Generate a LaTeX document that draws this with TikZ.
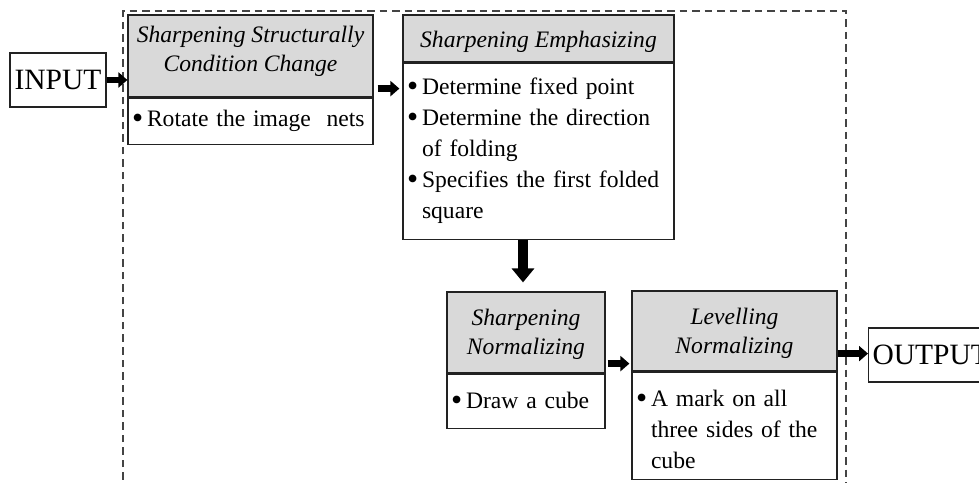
\documentclass[tikz,border=0pt]{standalone}
\usepackage{fontspec}
\setmainfont{Liberation Serif}
\usetikzlibrary{arrows.meta,calc}
\definecolor{hdr}{HTML}{D9D9D9}
\definecolor{edge}{HTML}{222222}
\definecolor{dash}{HTML}{444444}
\newcommand{\bl}{\makebox[16pt][l]{\hspace{1pt}\raisebox{-2pt}{\scalebox{1.35}{\textbullet}}}}
\newcommand{\bi}{\hspace*{16pt}}
\begin{document}
\begin{tikzpicture}[x=1pt,y=1pt,
  hdrbox/.style={draw=edge, line width=1.2pt, fill=hdr, inner sep=0pt},
  hdrtext/.style={inner sep=0pt, align=center, font=\fontsize{23.6}{29}\selectfont\itshape},
  bodybox/.style={draw=edge, line width=1.2pt, fill=white, inner xsep=3pt, inner ysep=0pt,
    align=left, anchor=north, font=\fontsize{23.6}{31}\selectfont},
  iobox/.style={draw=edge, line width=1.2pt, inner xsep=4pt, inner ysep=0pt, minimum height=54pt,
    font=\fontsize{29.5}{34}\selectfont},
  harrow/.style={line width=6.5pt, -{Triangle[length=9pt,width=15pt]}},
  varrow/.style={line width=10pt, -{Triangle[length=14pt,width=22pt]}},
  frame/.style={draw=dash, line width=1.3pt, dash pattern=on 7.5pt off 5pt}]
\useasboundingbox (0,0) rectangle (979,482);
\clip (0,0) rectangle (979,482);
% dashed frame
\draw[frame] (123,-10) -- (123,471) -- (846,471) -- (846,-10);
% input / output
\node[iobox, minimum width=96pt] (input) at (58,402) {INPUT};
\node[iobox, anchor=west] (output) at (868,127) {OUTPUT};
% box 1
\node[hdrbox, minimum width=245pt, minimum height=82pt] (b1h) at (250.5,426) {};
\node[hdrtext] (b1t) at ($(b1h.center)+(0,5)$) {Sharpening Structurally\\Condition Change};
\node[bodybox, minimum width=245pt, minimum height=46pt, text width=239pt] (b1b) at (b1h.south)
  {\bl Rotate the image~ nets};
% box 2
\node[hdrbox, minimum width=271pt, minimum height=47pt] (b2h) at (538.5,443.5) {};
\node[hdrtext] (b2t) at ($(b2h.center)+(0,-3)$) {Sharpening Emphasizing};
\node[bodybox, minimum width=271pt, minimum height=176pt, text width=265pt] (b2b) at (b2h.south)
  {\bl Determine fixed point\\
   \bl Determine the direction\\
   \bi of folding\\
   \bl Specifies the first folded\\
   \bi square};
% box 3
\node[hdrbox, minimum width=158pt, minimum height=81pt] (b3h) at (526,149.5) {};
\node[hdrtext] (b3t) at ($(b3h.center)+(0,-2)$) {Sharpening\\Normalizing};
\node[bodybox, minimum width=158pt, minimum height=54pt, text width=152pt] (b3b) at (b3h.south)
  {\bl Draw a cube};
% box 4
\node[hdrbox, minimum width=205pt, minimum height=80pt] (b4h) at (734.5,151) {};
\node[hdrtext] (b4t) at ($(b4h.center)+(0,-2)$) {Levelling\\Normalizing};
\node[bodybox, minimum width=205pt, minimum height=107pt, text width=199pt] (b4b) at (b4h.south)
  {\rule{0pt}{23pt}\bl A mark on all\\
   \bi three sides of the\\
   \bi cube};
% arrows
\coordinate (a2s) at ($(b1h.east |- b2b.north)+(4,-26)$);
\coordinate (a4s) at ($(b3h.south east)+(2,10)$);
\coordinate (a5s) at ($(b4h.south east)+(0,18)$);
\draw[harrow] (input.east) -- (input.east -| b1h.west);
\draw[harrow] (a2s) -- ($(a2s -| b2b.west)+(-3,0)$);
\draw[varrow] ($(b2b.south)+(-15.5,0)$) -- ($(b3h.north)+(-3,9)$);
\draw[harrow] (a4s) -- ($(a4s -| b4h.west)+(-2,0)$);
\draw[harrow] (a5s) -- (a5s -| output.west);
\end{tikzpicture}
\end{document}
